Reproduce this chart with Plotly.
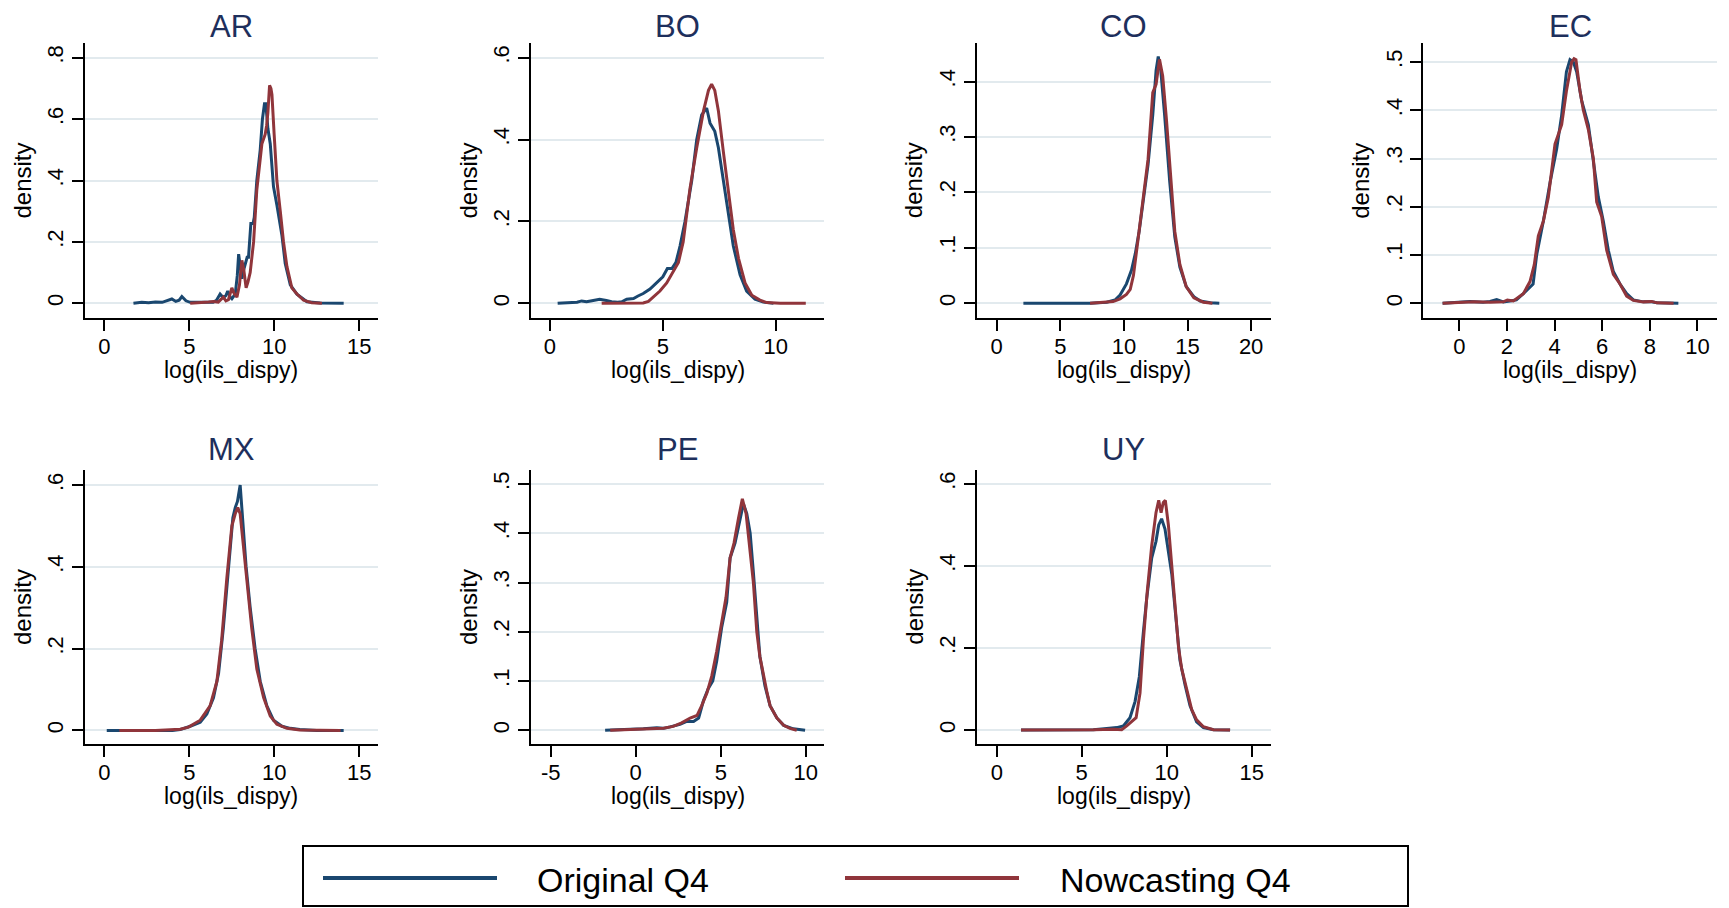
import plotly.graph_objects as go

# page body has an 8px margin: draw a 1721x900 figure and shift coordinates
OFF = 8
W, H = 1729 - OFF, 908 - OFF

countries = ["AR", "BO", "CO", "EC", "MX", "PE", "UY"]

# ---- density curves ----
AR_orig_x = [1.71, 2.2, 2.6, 3.0, 3.4, 3.7, 3.97, 4.2, 4.4, 4.56, 4.8, 5.05, 5.5, 6.0, 6.4, 6.6, 6.81, 7.0, 7.15, 7.26, 7.4, 7.5, 7.7, 7.82, 7.9, 8.0, 8.09, 8.2, 8.29, 8.4, 8.48, 8.62, 8.75, 8.82, 8.97, 9.17, 9.3, 9.42, 9.5, 9.56, 9.62, 9.76, 9.95, 10.15, 10.45, 10.64, 10.94, 11.33, 11.92, 12.7, 13.4, 14.08]
AR_orig_y = [0, 0.003, 0.002, 0.004, 0.003, 0.008, 0.014, 0.006, 0.01, 0.022, 0.008, 0.003, 0.002, 0.003, 0.003, 0.01, 0.03, 0.018, 0.025, 0.04, 0.02, 0.015, 0.03, 0.09, 0.16, 0.12, 0.08, 0.11, 0.13, 0.15, 0.15, 0.26, 0.26, 0.28, 0.40, 0.50, 0.60, 0.65, 0.65, 0.60, 0.57, 0.52, 0.38, 0.32, 0.22, 0.13, 0.06, 0.03, 0.005, 0.001, 0, 0]
AR_now_x = [5.05, 5.6, 6.13, 6.42, 6.7, 7.0, 7.15, 7.3, 7.5, 7.65, 7.8, 7.95, 8.09, 8.2, 8.34, 8.45, 8.58, 8.78, 8.97, 9.17, 9.27, 9.46, 9.55, 9.62, 9.72, 9.8, 9.86, 9.99, 10.15, 10.35, 10.54, 10.74, 11.03, 11.33, 11.72, 12.2, 12.8]
AR_now_y = [0, 0.001, 0.004, 0.006, 0.004, 0.02, 0.008, 0.012, 0.05, 0.03, 0.02, 0.06, 0.14, 0.11, 0.05, 0.07, 0.1, 0.2, 0.37, 0.47, 0.52, 0.55, 0.58, 0.62, 0.71, 0.70, 0.68, 0.55, 0.40, 0.30, 0.20, 0.12, 0.05, 0.03, 0.01, 0.002, 0]

BO_orig_x = [0.34, 0.89, 1.2, 1.4, 1.62, 1.8, 2.0, 2.2, 2.5, 2.73, 3.0, 3.18, 3.4, 3.7, 3.9, 4.13, 4.43, 4.73, 5.0, 5.2, 5.4, 5.58, 5.76, 5.98, 6.28, 6.5, 6.72, 6.94, 7.09, 7.3, 7.46, 7.68, 7.9, 8.12, 8.42, 8.71, 9.08, 9.45, 9.9]
BO_orig_y = [0, 0.001, 0.003, 0.006, 0.004, 0.006, 0.008, 0.01, 0.007, 0.004, 0.003, 0.004, 0.01, 0.012, 0.018, 0.024, 0.035, 0.05, 0.065, 0.085, 0.085, 0.1, 0.14, 0.2, 0.3, 0.4, 0.46, 0.477, 0.44, 0.42, 0.38, 0.3, 0.22, 0.14, 0.07, 0.03, 0.01, 0.003, 0]
BO_now_x = [2.29, 2.95, 3.55, 4.13, 4.36, 4.58, 4.87, 5.17, 5.44, 5.69, 5.9, 6.2, 6.5, 6.8, 7.02, 7.16, 7.3, 7.46, 7.68, 7.9, 8.12, 8.35, 8.64, 8.94, 9.3, 9.6, 10.2, 11.33]
BO_now_y = [0, 0, 0, 0.001, 0.005, 0.015, 0.03, 0.05, 0.075, 0.1, 0.15, 0.28, 0.38, 0.47, 0.52, 0.535, 0.52, 0.47, 0.37, 0.27, 0.18, 0.11, 0.05, 0.02, 0.008, 0.002, 0, 0]

CO_orig_x = [2.1, 7.34, 8.65, 9.3, 9.7, 10.2, 10.6, 10.9, 11.2, 11.5, 11.9, 12.27, 12.53, 12.7, 12.9, 13.2, 13.6, 14.0, 14.4, 14.9, 15.5, 16.0, 16.8, 17.5]
CO_orig_y = [0, 0, 0.002, 0.006, 0.015, 0.035, 0.06, 0.09, 0.13, 0.18, 0.25, 0.34, 0.42, 0.445, 0.42, 0.34, 0.22, 0.12, 0.065, 0.03, 0.012, 0.004, 0.001, 0]
CO_now_x = [7.34, 8.1, 9.15, 9.7, 10.2, 10.5, 10.75, 11.14, 11.48, 11.9, 12.27, 12.53, 12.8, 13.05, 13.35, 13.7, 14.0, 14.4, 14.9, 15.5, 16.25, 16.96]
CO_now_y = [0, 0.001, 0.003, 0.008, 0.016, 0.025, 0.05, 0.12, 0.18, 0.26, 0.38, 0.395, 0.44, 0.41, 0.33, 0.22, 0.13, 0.07, 0.03, 0.01, 0.002, 0]

EC_orig_x = [-0.7, 0.17, 0.45, 1.0, 1.29, 1.57, 1.85, 2.13, 2.4, 2.69, 2.97, 3.1, 3.25, 3.53, 3.81, 4.09, 4.3, 4.5, 4.65, 4.79, 4.93, 5.14, 5.42, 5.63, 5.84, 6.05, 6.26, 6.47, 6.75, 7.03, 7.31, 7.73, 8.08, 8.3, 9.2]
EC_orig_y = [0, 0.002, 0.004, 0.002, 0.004, 0.008, 0.003, 0.005, 0.007, 0.02, 0.035, 0.04, 0.1, 0.17, 0.25, 0.32, 0.39, 0.48, 0.505, 0.5, 0.48, 0.42, 0.37, 0.3, 0.22, 0.17, 0.11, 0.066, 0.04, 0.02, 0.007, 0.003, 0.003, 0.001, 0]
EC_now_x = [-0.7, 0.17, 0.6, 1.29, 1.85, 2.02, 2.27, 2.69, 2.97, 3.15, 3.32, 3.53, 3.74, 4.02, 4.3, 4.5, 4.72, 4.82, 4.9, 5.07, 5.21, 5.42, 5.63, 5.77, 5.98, 6.19, 6.47, 6.75, 7.03, 7.31, 7.73, 8.08, 8.3, 9.0]
EC_now_y = [0, 0.001, 0.003, 0.002, 0.003, 0.007, 0.005, 0.02, 0.045, 0.08, 0.14, 0.17, 0.22, 0.33, 0.37, 0.44, 0.5, 0.507, 0.505, 0.44, 0.40, 0.36, 0.3, 0.21, 0.18, 0.11, 0.06, 0.04, 0.015, 0.006, 0.003, 0.004, 0.001, 0]

MX_orig_x = [0.14, 2.0, 4.0, 4.46, 5.05, 5.64, 6.03, 6.42, 6.72, 7.0, 7.3, 7.56, 7.7, 7.83, 7.99, 8.15, 8.34, 8.58, 8.87, 9.17, 9.56, 9.95, 10.45, 10.94, 11.5, 12.5, 14.08]
MX_orig_y = [0, 0, 0, 0.002, 0.01, 0.02, 0.04, 0.08, 0.14, 0.25, 0.4, 0.52, 0.545, 0.56, 0.60, 0.5, 0.4, 0.3, 0.2, 0.12, 0.06, 0.025, 0.01, 0.005, 0.002, 0, 0]
MX_now_x = [0.88, 3.0, 4.46, 4.95, 5.64, 6.22, 6.62, 6.9, 7.2, 7.5, 7.7, 7.85, 7.99, 8.19, 8.38, 8.67, 8.97, 9.37, 9.76, 10.15, 10.74, 11.5, 13.9]
MX_now_y = [0, 0, 0.003, 0.008, 0.025, 0.06, 0.12, 0.22, 0.37, 0.5, 0.53, 0.545, 0.53, 0.45, 0.37, 0.25, 0.15, 0.08, 0.035, 0.015, 0.005, 0.001, 0]

PE_orig_x = [-1.8, -0.33, 0.45, 1.24, 1.63, 2.02, 2.6, 3.0, 3.4, 3.7, 3.98, 4.27, 4.53, 4.76, 5.06, 5.35, 5.55, 5.84, 6.14, 6.33, 6.53, 6.73, 6.92, 7.12, 7.3, 7.6, 7.9, 8.3, 8.7, 9.27, 9.96]
PE_orig_y = [0, 0.001, 0.003, 0.005, 0.004, 0.007, 0.012, 0.018, 0.018, 0.025, 0.06, 0.085, 0.1, 0.14, 0.21, 0.26, 0.35, 0.38, 0.43, 0.46, 0.44, 0.4, 0.32, 0.22, 0.15, 0.09, 0.05, 0.025, 0.01, 0.003, 0]
PE_now_x = [-1.5, -0.33, 0.45, 1.24, 1.63, 2.2, 2.7, 3.2, 3.6, 3.88, 4.18, 4.47, 4.76, 5.06, 5.31, 5.55, 5.78, 6.04, 6.27, 6.49, 6.69, 6.92, 7.12, 7.3, 7.7, 7.9, 8.3, 8.7, 9.07, 9.47]
PE_now_y = [0, 0.001, 0.002, 0.003, 0.004, 0.008, 0.015, 0.025, 0.03, 0.05, 0.075, 0.11, 0.16, 0.22, 0.27, 0.35, 0.38, 0.43, 0.47, 0.44, 0.38, 0.3, 0.2, 0.15, 0.08, 0.05, 0.025, 0.01, 0.004, 0]

UY_orig_x = [1.43, 4.0, 5.69, 6.47, 7.06, 7.45, 7.84, 8.14, 8.39, 8.63, 8.82, 9.12, 9.37, 9.53, 9.7, 9.9, 10.1, 10.3, 10.55, 10.78, 11.08, 11.37, 11.76, 12.16, 12.75, 13.73]
UY_orig_y = [0, 0, 0.001, 0.004, 0.006, 0.01, 0.03, 0.07, 0.13, 0.24, 0.32, 0.42, 0.46, 0.5, 0.515, 0.49, 0.44, 0.38, 0.27, 0.17, 0.11, 0.06, 0.02, 0.006, 0.001, 0]
UY_now_x = [1.43, 4.0, 5.69, 6.86, 7.35, 7.65, 7.94, 8.2, 8.43, 8.63, 8.86, 9.12, 9.37, 9.53, 9.67, 9.8, 9.92, 10.1, 10.3, 10.5, 10.7, 10.88, 11.18, 11.47, 11.76, 12.16, 12.75, 13.73]
UY_now_y = [0, 0, 0.0005, 0.002, 0.001, 0.01, 0.02, 0.03, 0.09, 0.22, 0.34, 0.45, 0.53, 0.56, 0.53, 0.555, 0.56, 0.5, 0.4, 0.3, 0.2, 0.15, 0.1, 0.05, 0.025, 0.008, 0.001, 0]

# ---- tick values / axis ranges ----
x_ticks = {
    "AR": [0, 5, 10, 15], "BO": [0, 5, 10], "CO": [0, 5, 10, 15, 20],
    "EC": [0, 2, 4, 6, 8, 10], "MX": [0, 5, 10, 15], "PE": [-5, 0, 5, 10],
    "UY": [0, 5, 10, 15],
}
y_ticks = {
    "AR": [0, 0.2, 0.4, 0.6, 0.8], "BO": [0, 0.2, 0.4, 0.6],
    "CO": [0, 0.1, 0.2, 0.3, 0.4], "EC": [0, 0.1, 0.2, 0.3, 0.4, 0.5],
    "MX": [0, 0.2, 0.4, 0.6], "PE": [0, 0.1, 0.2, 0.3, 0.4, 0.5],
    "UY": [0, 0.2, 0.4, 0.6],
}
x_ranges = {
    "AR": [-1.14, 16.1], "BO": [-0.84, 12.15], "CO": [-1.57, 21.54],
    "EC": [-1.51, 10.81], "MX": [-1.14, 16.1], "PE": [-6.16, 11.09],
    "UY": [-1.18, 16.12],
}
y_ranges = {
    "AR": [-0.047, 0.847], "BO": [-0.035, 0.635], "CO": [-0.026, 0.469],
    "EC": [-0.0298, 0.5388], "MX": [-0.0333, 0.637], "PE": [-0.0278, 0.5285],
    "UY": [-0.034, 0.634],
}

series = {
    "AR": (AR_orig_x, AR_orig_y, AR_now_x, AR_now_y),
    "BO": (BO_orig_x, BO_orig_y, BO_now_x, BO_now_y),
    "CO": (CO_orig_x, CO_orig_y, CO_now_x, CO_now_y),
    "EC": (EC_orig_x, EC_orig_y, EC_now_x, EC_now_y),
    "MX": (MX_orig_x, MX_orig_y, MX_now_x, MX_now_y),
    "PE": (PE_orig_x, PE_orig_y, PE_now_x, PE_now_y),
    "UY": (UY_orig_x, UY_orig_y, UY_now_x, UY_now_y),
}

x_title = "log(ils_dispy)"
y_title = "density"
legend_labels = ["Original Q4", "Nowcasting Q4"]

NAVY = "#1a476f"
MAROON = "#90353b"
TITLE_COLOR = "#1e2f5c"
GRID = "#e2eaee"
FONT = "Liberation Sans, Arial, sans-serif"

# panel pixel boxes in page coordinates (left, right, top, bottom)
col_px = [(85, 378), (531, 824.3), (976.7, 1270.7), (1423.3, 1716.7)]
row_px = [(43.3, 317.7), (470, 744)]
positions = {"AR": (0, 0), "BO": (0, 1), "CO": (0, 2), "EC": (0, 3),
             "MX": (1, 0), "PE": (1, 1), "UY": (1, 2)}


def px_x(p):
    return (p - OFF) / W


def px_y(p):
    return 1 - (p - OFF) / H


def fmt(v):
    if v == 0:
        return "0"
    s = ("%g" % v)
    return s[1:] if s.startswith("0.") else s


fig = go.Figure()
layout = dict(width=W, height=H, margin=dict(l=0, r=0, t=0, b=0, autoexpand=False),
              paper_bgcolor="white", plot_bgcolor="white", showlegend=False,
              font=dict(family=FONT, color="black"))
annotations = []
shapes = []

for i, c in enumerate(countries):
    n = "" if i == 0 else str(i + 1)
    r, col = positions[c]
    l_px, r_px = col_px[col]
    t_px, b_px = row_px[r]
    xd = [px_x(l_px), px_x(r_px)]
    yd = [px_y(b_px), px_y(t_px)]
    ox, oy, nx, ny = series[c]
    fig.add_trace(go.Scatter(x=ox, y=oy, mode="lines", name=legend_labels[0],
                             line=dict(color=NAVY, width=3),
                             xaxis="x" + n, yaxis="y" + n))
    fig.add_trace(go.Scatter(x=nx, y=ny, mode="lines", name=legend_labels[1],
                             line=dict(color=MAROON, width=3),
                             xaxis="x" + n, yaxis="y" + n))
    layout["xaxis" + n] = dict(
        domain=xd, range=x_ranges[c], anchor="y" + n,
        tickvals=x_ticks[c], ticktext=[fmt(v) for v in x_ticks[c]],
        showline=True, linecolor="black", linewidth=2,
        ticks="outside", ticklen=11, tickwidth=2, tickcolor="black",
        ticklabelstandoff=-3,
        showgrid=False, zeroline=False,
        tickfont=dict(size=22, family=FONT, color="black"))
    layout["yaxis" + n] = dict(
        domain=yd, range=y_ranges[c], anchor="x" + n,
        tickvals=y_ticks[c], ticktext=[fmt(v) for v in y_ticks[c]],
        tickangle=-90,
        showline=True, linecolor="black", linewidth=2,
        ticks="outside", ticklen=11, tickwidth=2, tickcolor="black",
        showgrid=True, gridcolor=GRID, gridwidth=1.8, zeroline=False,
        tickfont=dict(size=22, family=FONT, color="black"))
    cx = (l_px + r_px) / 2
    cy = (t_px + b_px) / 2
    if r == 0:
        title_pos = dict(y=px_y(OFF), yanchor="top")
    else:
        title_pos = dict(y=px_y(t_px - 21), yanchor="middle")
    annotations.append(dict(text=c, x=px_x(cx), xref="paper", yref="paper",
                            showarrow=False, xanchor="center", borderpad=0,
                            font=dict(size=31, color=TITLE_COLOR, family=FONT),
                            **title_pos))
    annotations.append(dict(text=x_title, x=px_x(cx), y=px_y(b_px + 52),
                            xref="paper", yref="paper", showarrow=False,
                            xanchor="center", yanchor="middle",
                            font=dict(size=23, color="black", family=FONT)))
    annotations.append(dict(text=y_title, x=px_x(l_px - 63), y=px_y(cy),
                            xref="paper", yref="paper", showarrow=False,
                            textangle=-90, xanchor="center", yanchor="middle",
                            font=dict(size=24, color="black", family=FONT)))

# legend box
shapes.append(dict(type="rect", xref="paper", yref="paper",
                   x0=px_x(303), x1=px_x(1408), y0=px_y(906), y1=px_y(846),
                   line=dict(color="black", width=2), fillcolor="white",
                   layer="below"))
shapes.append(dict(type="line", xref="paper", yref="paper",
                   x0=px_x(323), x1=px_x(497), y0=px_y(878), y1=px_y(878),
                   line=dict(color=NAVY, width=4)))
shapes.append(dict(type="line", xref="paper", yref="paper",
                   x0=px_x(845), x1=px_x(1019), y0=px_y(878), y1=px_y(878),
                   line=dict(color=MAROON, width=4)))
for lbl, lx in zip(legend_labels, [535, 1058]):
    annotations.append(dict(text=lbl, x=px_x(lx), y=px_y(880),
                            xref="paper", yref="paper", showarrow=False,
                            xanchor="left", yanchor="middle",
                            font=dict(size=34, color="black", family=FONT)))

layout["annotations"] = annotations
layout["shapes"] = shapes
fig.update_layout(**layout)
fig.write_html("out.html")
